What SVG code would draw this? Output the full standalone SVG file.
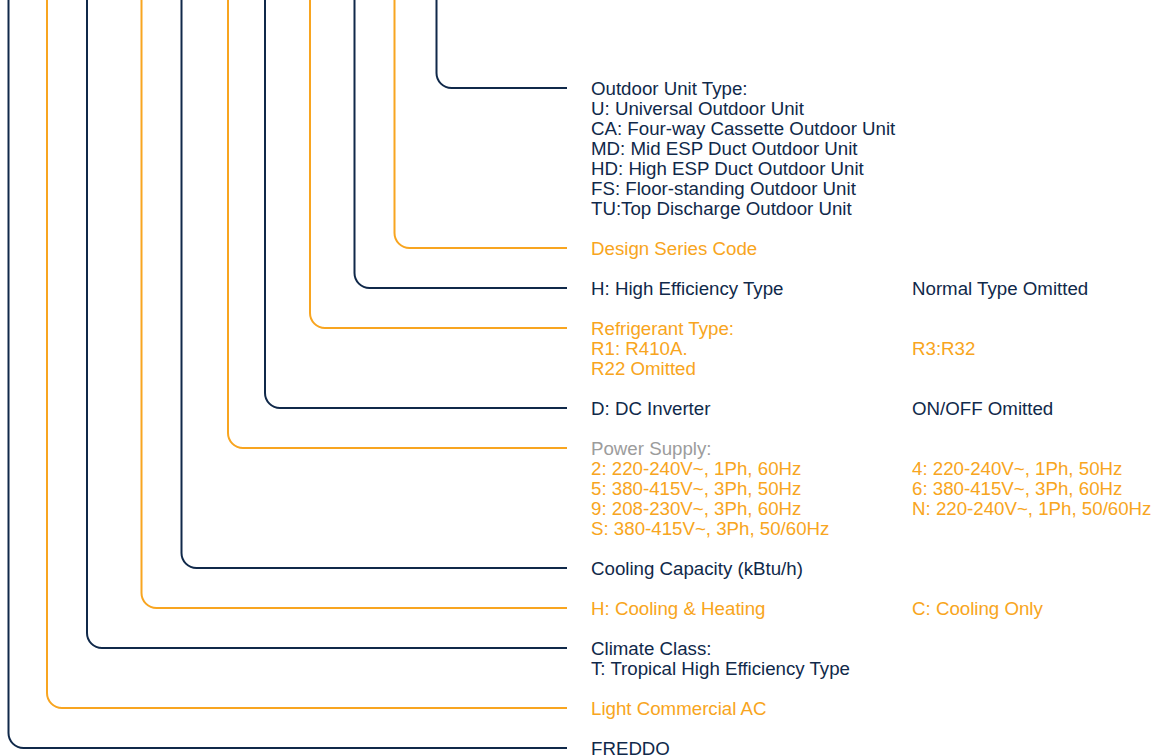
<svg xmlns="http://www.w3.org/2000/svg" width="1163" height="756" viewBox="0 0 1163 756">
<style>
.t{font-family:"Liberation Sans",Arial,sans-serif;font-size:18.7px}
.d{fill:#10294a}
.o{fill:#f8a520}
.g{fill:#9c9c9c}
.ld{fill:none;stroke:#10294a;stroke-width:2}
.lo{fill:none;stroke:#f8a520;stroke-width:2}
</style>
<rect width="1163" height="756" fill="#ffffff"/>
<g id="connectors">
<path class="ld" d="M8.5,-2 V733 a15,15 0 0 0 15,15 H567"/>
<path class="lo" d="M47,-2 V693 a15,15 0 0 0 15,15 H567"/>
<path class="ld" d="M87,-2 V633 a15,15 0 0 0 15,15 H567"/>
<path class="lo" d="M141.5,-2 V593 a15,15 0 0 0 15,15 H567"/>
<path class="ld" d="M181.5,-2 V553 a15,15 0 0 0 15,15 H567"/>
<path class="lo" d="M228,-2 V433 a15,15 0 0 0 15,15 H567"/>
<path class="ld" d="M265,-2 V393 a15,15 0 0 0 15,15 H567"/>
<path class="lo" d="M310,-2 V313 a15,15 0 0 0 15,15 H567"/>
<path class="ld" d="M354.5,-2 V273 a15,15 0 0 0 15,15 H567"/>
<path class="lo" d="M394.5,-2 V233 a15,15 0 0 0 15,15 H567"/>
<path class="ld" d="M436.5,-2 V73 a15,15 0 0 0 15,15 H567"/>
</g>
<g id="outdoor-unit-type" class="t d">
<text x="591" y="95">Outdoor Unit Type:</text>
<text x="591" y="115">U: Universal Outdoor Unit</text>
<text x="591" y="135">CA: Four-way Cassette Outdoor Unit</text>
<text x="591" y="155">MD: Mid ESP Duct Outdoor Unit</text>
<text x="591" y="175">HD: High ESP Duct Outdoor Unit</text>
<text x="591" y="195">FS: Floor-standing Outdoor Unit</text>
<text x="591" y="215">TU:Top Discharge Outdoor Unit</text>
</g>
<g id="design-series" class="t o">
<text x="591" y="255">Design Series Code</text>
</g>
<g id="efficiency" class="t d">
<text x="591" y="295">H: High Efficiency Type</text>
<text x="912" y="295">Normal Type Omitted</text>
</g>
<g id="refrigerant" class="t o">
<text x="591" y="335">Refrigerant Type:</text>
<text x="591" y="355">R1: R410A.</text>
<text x="591" y="375">R22 Omitted</text>
<text x="912" y="355">R3:R32</text>
</g>
<g id="inverter" class="t d">
<text x="591" y="415">D: DC Inverter</text>
<text x="912" y="415">ON/OFF Omitted</text>
</g>
<g id="power-supply" class="t o">
<text x="591" y="455" class="g">Power Supply:</text>
<text x="591" y="475">2: 220-240V~, 1Ph, 60Hz</text>
<text x="591" y="495">5: 380-415V~, 3Ph, 50Hz</text>
<text x="591" y="515">9: 208-230V~, 3Ph, 60Hz</text>
<text x="591" y="535">S: 380-415V~, 3Ph, 50/60Hz</text>
<text x="912" y="475">4: 220-240V~, 1Ph, 50Hz</text>
<text x="912" y="495">6: 380-415V~, 3Ph, 60Hz</text>
<text x="912" y="515">N: 220-240V~, 1Ph, 50/60Hz</text>
</g>
<g id="cooling-capacity" class="t d">
<text x="591" y="575">Cooling Capacity (kBtu/h)</text>
</g>
<g id="function" class="t o">
<text x="591" y="615">H: Cooling &amp; Heating</text>
<text x="912" y="615">C: Cooling Only</text>
</g>
<g id="climate-class" class="t d">
<text x="591" y="655">Climate Class:</text>
<text x="591" y="675">T: Tropical High Efficiency Type</text>
</g>
<g id="product-line" class="t o">
<text x="591" y="715">Light Commercial AC</text>
</g>
<g id="brand" class="t d">
<text x="591" y="755">FREDDO</text>
</g>
</svg>
